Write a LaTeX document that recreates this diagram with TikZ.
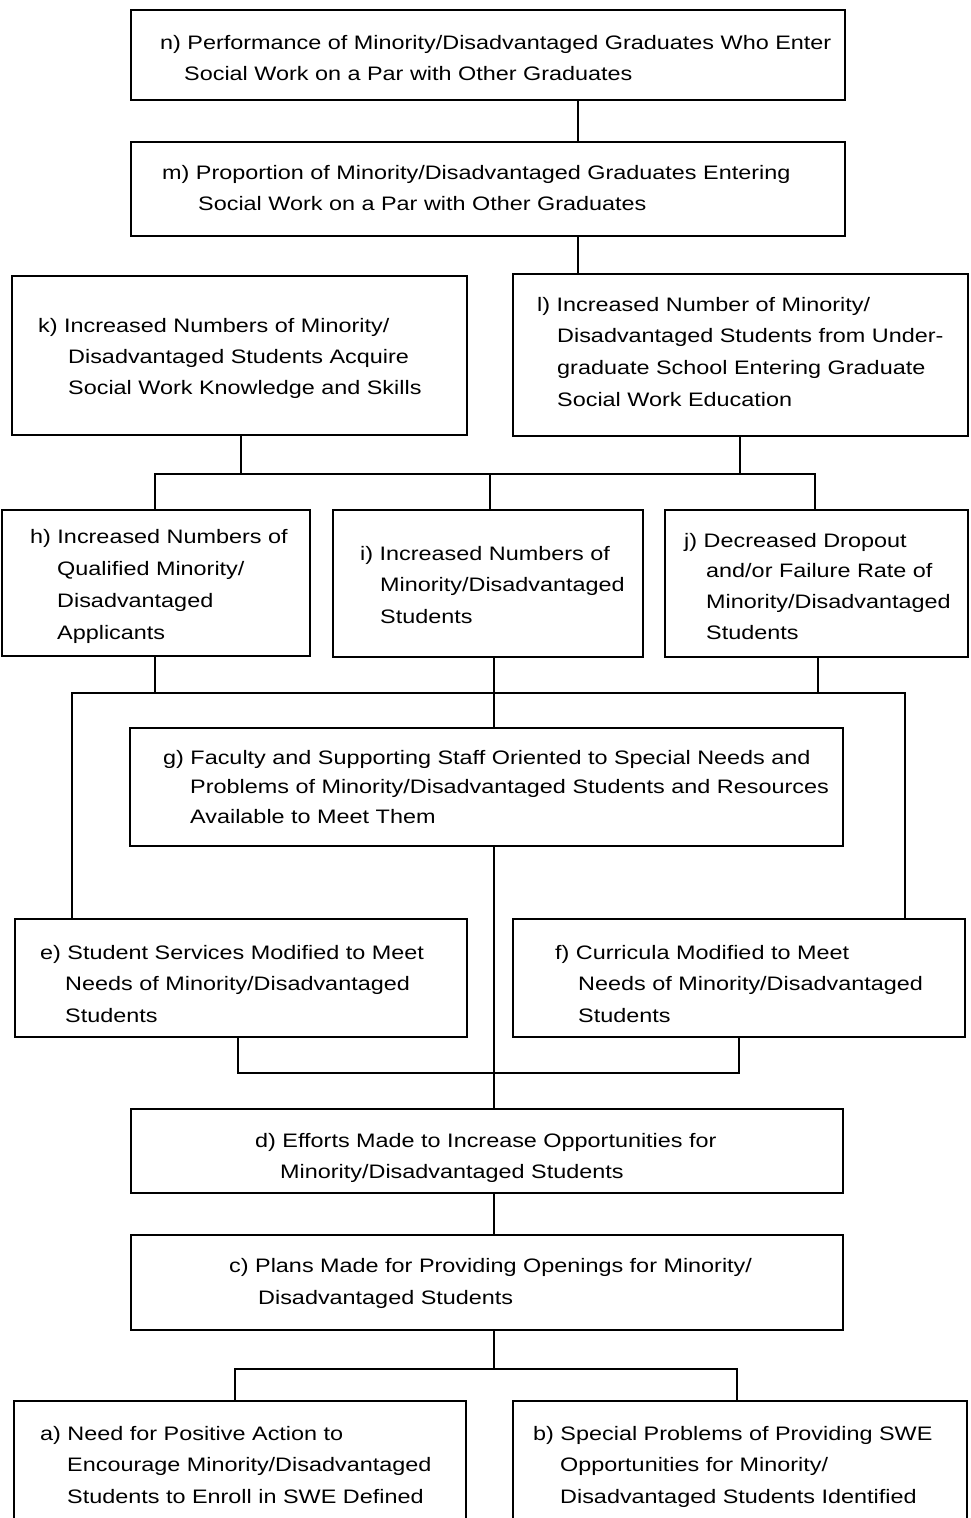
\documentclass[tikz,border=0pt]{standalone}
\usepackage{fontspec}
\setmainfont{Liberation Sans}[FakeStretch=1.2]
\newcommand\boxtext[2]{\vtop{\baselineskip=#1pt\relax\lineskip=0pt #2}}
\begin{document}
\begin{tikzpicture}[x=1pt,y=-1pt,
  box/.style={draw, line width=2.6pt, rectangle, inner sep=0pt},
  conn/.style={draw, line width=2pt},
  txt/.style={anchor=base west, inner sep=0pt, font=\fontsize{19.5}{31}\selectfont}]
\useasboundingbox (0,0) rectangle (970,1518);
\clip (0,0) rectangle (970,1518);

% boxes
\node[box, minimum width=714pt, minimum height=90pt]  (n) at (488,55) {};
\node[box, minimum width=714pt, minimum height=94pt]  (m) at (488,189) {};
\node[box, minimum width=455pt, minimum height=159pt] (k) at (239.5,355.5) {};
\node[box, minimum width=455pt, minimum height=162pt] (l) at (740.5,355) {};
\node[box, minimum width=308pt, minimum height=146pt] (h) at (156,583) {};
\node[box, minimum width=310pt, minimum height=147pt] (i) at (488,583.5) {};
\node[box, minimum width=303pt, minimum height=147pt] (j) at (816.5,583.5) {};
\node[box, minimum width=713pt, minimum height=118pt] (g) at (486.5,787) {};
\node[box, minimum width=452pt, minimum height=118pt] (e) at (241,978) {};
\node[box, minimum width=452pt, minimum height=118pt] (f) at (739,978) {};
\node[box, minimum width=712pt, minimum height=84pt]  (d) at (487,1151) {};
\node[box, minimum width=712pt, minimum height=95pt]  (c) at (487,1282.5) {};
\node[box, minimum width=452pt, minimum height=139pt] (a) at (240,1470.5) {};
\node[box, minimum width=454pt, minimum height=139pt] (b) at (740,1470.5) {};

% texts
\node[txt] (nt) at (160,49) {\boxtext{31}{\hbox{n) Performance of Minority/Disadvantaged Graduates Who Enter}\hbox{\kern24pt Social Work on a Par with Other Graduates}}};
\node[txt] (mt) at (162,179) {\boxtext{31}{\hbox{m) Proportion of Minority/Disadvantaged Graduates Entering}\hbox{\kern36pt Social Work on a Par with Other Graduates}}};
\node[txt] (kt) at (38,332) {\boxtext{31}{\hbox{k) Increased Numbers of Minority/}\hbox{\kern30pt Disadvantaged Students Acquire}\hbox{\kern30pt Social Work Knowledge and Skills}}};
\node[txt] (lt) at (537,311) {\boxtext{31.7}{\hbox{l) Increased Number of Minority/}\hbox{\kern20pt Disadvantaged Students from Under-}\hbox{\kern20pt graduate School Entering Graduate}\hbox{\kern20pt Social Work Education}}};
\node[txt] (ht) at (30,543) {\boxtext{32}{\hbox{h) Increased Numbers of}\hbox{\kern27pt Qualified Minority/}\hbox{\kern27pt Disadvantaged}\hbox{\kern27pt Applicants}}};
\node[txt] (it) at (360,560) {\boxtext{31.5}{\hbox{i) Increased Numbers of}\hbox{\kern20pt Minority/Disadvantaged}\hbox{\kern20pt Students}}};
\node[txt] (jt) at (684,547) {\boxtext{30.7}{\hbox{j) Decreased Dropout}\hbox{\kern22pt and/or Failure Rate of}\hbox{\kern22pt Minority/Disadvantaged}\hbox{\kern22pt Students}}};
\node[txt] (gt) at (163,764) {\boxtext{29.5}{\hbox{g) Faculty and Supporting Staff Oriented to Special Needs and}\hbox{\kern27pt Problems of Minority/Disadvantaged Students and Resources}\hbox{\kern27pt Available to Meet Them}}};
\node[txt] (et) at (40,959) {\boxtext{31.5}{\hbox{e) Student Services Modified to Meet}\hbox{\kern25pt Needs of Minority/Disadvantaged}\hbox{\kern25pt Students}}};
\node[txt] (ft) at (555,959) {\boxtext{31.5}{\hbox{f) Curricula Modified to Meet}\hbox{\kern23pt Needs of Minority/Disadvantaged}\hbox{\kern23pt Students}}};
\node[txt] (dt) at (255,1147) {\boxtext{31}{\hbox{d) Efforts Made to Increase Opportunities for}\hbox{\kern25pt Minority/Disadvantaged Students}}};
\node[txt] (ct) at (229,1272) {\boxtext{32}{\hbox{c) Plans Made for Providing Openings for Minority/}\hbox{\kern29pt Disadvantaged Students}}};
\node[txt] (at) at (40,1440) {\boxtext{31.5}{\hbox{a) Need for Positive Action to}\hbox{\kern27pt Encourage Minority/Disadvantaged}\hbox{\kern27pt Students to Enroll in SWE Defined}}};
\node[txt] (bt) at (533,1440) {\boxtext{31.5}{\hbox{b) Special Problems of Providing SWE}\hbox{\kern27pt Opportunities for Minority/}\hbox{\kern27pt Disadvantaged Students Identified}}};

% guide positions of the connector lines
\coordinate (top)  at (578,0);
\coordinate (mid)  at (494,0);
\coordinate (busA) at (0,474);
\coordinate (busB) at (0,693);
\coordinate (busC) at (0,1073);
\coordinate (busD) at (0,1369);
\coordinate (kx) at (241,0);
\coordinate (lx) at (740,0);
\coordinate (hx) at (155,0);
\coordinate (ix) at (490,0);
\coordinate (jx) at (815,0);
\coordinate (jx2) at (818,0);
\coordinate (ex) at (72,0);
\coordinate (fx) at (905,0);
\coordinate (ex2) at (238,0);
\coordinate (fx2) at (739,0);
\coordinate (ax) at (235,0);
\coordinate (bx) at (737,0);

% connectors
\draw[conn] (n.south -| top) -- (m.north -| top);
\draw[conn] (m.south -| top) -- (l.north -| top);
\draw[conn] (k.south -| kx) -- (busA -| kx);
\draw[conn] (l.south -| lx) -- (busA -| lx);
\draw[conn] (h.north -| hx) |- (busA -| jx) -- (j.north -| jx);
\draw[conn] (busA -| ix) -- (i.north -| ix);
\draw[conn] (h.south -| hx) -- (busB -| hx);
\draw[conn] (j.south -| jx2) -- (busB -| jx2);
\draw[conn] (e.north -| ex) |- (busB -| fx) -- (f.north -| fx);
\draw[conn] (i.south -| mid) -- (g.north -| mid);
\draw[conn] (g.south -| mid) -- (d.north -| mid);
\draw[conn] (e.south -| ex2) |- (busC -| fx2) -- (f.south -| fx2);
\draw[conn] (d.south -| mid) -- (c.north -| mid);
\draw[conn] (c.south -| mid) -- (busD -| mid);
\draw[conn] (a.north -| ax) |- (busD -| bx) -- (b.north -| bx);
\end{tikzpicture}
\end{document}
